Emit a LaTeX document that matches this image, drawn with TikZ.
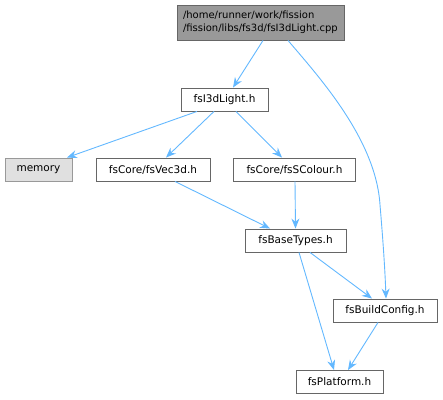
\documentclass[tikz,border=0pt]{standalone}
\usepackage{fontspec}
\setmainfont{DejaVu Sans}
\usetikzlibrary{arrows.meta}
\definecolor{edgeblue}{HTML}{63B8FF}
\definecolor{boxborder}{HTML}{666666}
\definecolor{topfill}{HTML}{999999}
\definecolor{memfill}{HTML}{E0E0E0}
\definecolor{memborder}{HTML}{999999}
\begin{document}
\begin{tikzpicture}[x=1pt,y=-1pt,
  filebox/.style={draw=boxborder,fill=white,line width=0.9pt,inner sep=0pt,minimum height=23pt,
    font=\fontsize{10.5}{13}\selectfont},
  extbox/.style={filebox,draw=memborder,fill=memfill},
  rootbox/.style={filebox,fill=topfill,minimum height=35pt,align=left,text width=155pt,inner xsep=6pt,
    font=\fontsize{10}{13}\selectfont},
  dep/.style={draw=edgeblue,line width=0.9pt,-{Stealth[length=10pt,width=8pt]}}]
\useasboundingbox (0,0) rectangle (443,399);
\node[rootbox] (root) at (260.5,22.5) {/home/runner/work/fission\\/fission/libs/fs3d/fsI3dLight.cpp};
\node[filebox,minimum width=87pt] (light) at (224.5,99.5) {fsI3dLight.h};
\node[extbox,minimum width=67pt] (mem) at (38.5,169.5) {memory};
\node[filebox,minimum width=114pt] (vec) at (153,169.5) {fsCore/fsVec3d.h};
\node[filebox,minimum width=122pt] (col) at (294.5,169.5) {fsCore/fsSColour.h};
\node[filebox,minimum width=101pt] (base) at (295.5,240.5) {fsBaseTypes.h};
\node[filebox,minimum width=104pt] (build) at (385,310.5) {fsBuildConfig.h};
\node[filebox,minimum width=87pt] (plat) at (339.5,382) {fsPlatform.h};
\draw[dep] ([xshift=2.5pt]root.south) -- ([xshift=8.5pt]light.north);
\draw[dep] ([xshift=27.5pt]root.south) .. controls (320,78) and (376,140) .. (380,205) .. controls (383,240) and (385,270) .. ([xshift=1pt]build.north);
\draw[dep] ([xshift=-27.5pt]light.south) -- ([xshift=28.5pt]mem.north);
\draw[dep] ([xshift=-10.5pt]light.south) -- ([xshift=13pt]vec.north);
\draw[dep] ([xshift=11.5pt]light.south) -- ([xshift=-12.5pt]col.north);
\draw[dep] ([xshift=22pt]vec.south) -- ([xshift=-25.5pt]base.north);
\draw[dep] ([xshift=0.5pt]col.south) -- (base.north);
\draw[dep] ([xshift=14.5pt]base.south) -- ([xshift=-13pt]build.north);
\draw[dep] ([xshift=3.5pt]base.south) -- ([xshift=-5.5pt]plat.north);
\draw[dep] ([xshift=-7pt]build.south) -- ([xshift=8.5pt]plat.north);
\end{tikzpicture}
\end{document}
